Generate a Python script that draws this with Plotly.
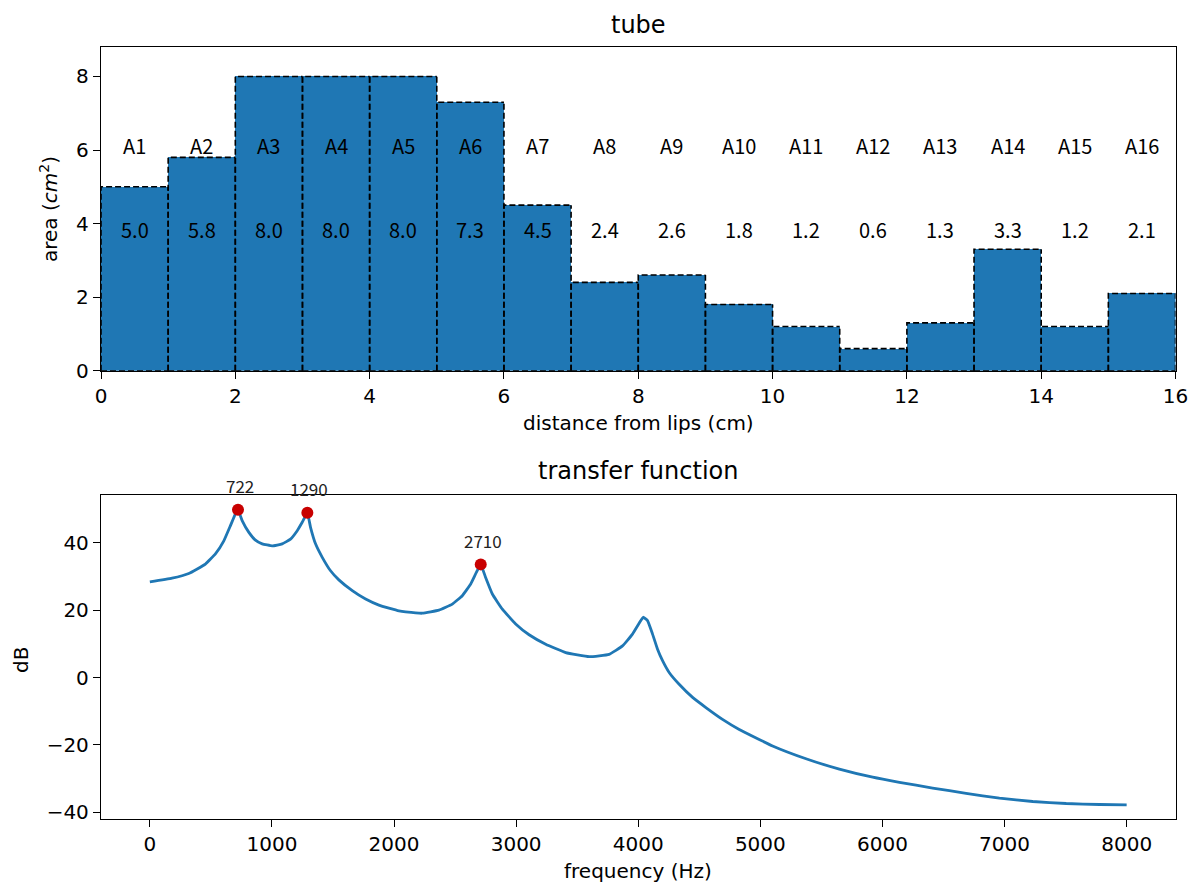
import numpy as np
import plotly.graph_objects as go

# ---------------- data ----------------
section_labels = ["A%d" % (i + 1) for i in range(16)]
areas = [5.0, 5.8, 8.0, 8.0, 8.0, 7.3, 4.5, 2.4, 2.6, 1.8, 1.2, 0.6, 1.3, 3.3, 1.2, 2.1]

freq_hz = [0, 182, 319, 455, 537, 606, 660, 701, 722, 756, 811, 865, 920, 1002, 1084,
           1152, 1207, 1248, 1290, 1316, 1357, 1412, 1480, 1548, 1658, 1767, 1876, 1958,
           2040, 2095, 2231, 2368, 2477, 2559, 2628, 2674, 2710, 2750, 2805, 2887, 2996,
           3106, 3242, 3406, 3598, 3761, 3871, 3953, 4007, 4040, 4076, 4117, 4158, 4199,
           4253, 4335, 4445, 4554, 4690, 4827, 5100, 5374, 5647, 5920, 6139, 6411,
           6685, 6958, 7231, 7505, 7778, 8000]
gain_db = [28.4, 29.5, 30.9, 33.7, 36.7, 40.6, 45.1, 48.6, 49.8, 46.6, 43.1, 40.8, 39.7,
           39.1, 39.7, 41.1, 43.6, 46.1, 48.9, 44.6, 39.7, 35.7, 31.7, 29.0, 25.8, 23.3,
           21.5, 20.6, 19.8, 19.5, 19.1, 20.0, 21.8, 24.3, 27.8, 31.2, 33.6, 29.7, 24.8,
           20.3, 15.9, 12.7, 9.9, 7.4, 6.2, 6.9, 9.4, 12.9, 16.1, 17.9, 16.9, 12.9, 8.4,
           5.0, 1.5, -2.0, -5.9, -8.9, -12.4, -15.4, -20.3, -24.1, -27.2, -29.6, -31.1,
           -32.8, -34.4, -35.8, -36.8, -37.4, -37.7, -37.8]

peak_freq = [722, 1290, 2710]
peak_db = [49.8, 48.9, 33.6]
peak_labels = [str(f) for f in peak_freq]

x_ticks_top = [0, 2, 4, 6, 8, 10, 12, 14, 16]
y_ticks_top = [0, 2, 4, 6, 8]
x_ticks_bot = [0, 1000, 2000, 3000, 4000, 5000, 6000, 7000, 8000]
y_ticks_bot = [-40, -20, 0, 20, 40]

# ---------------- figure ----------------
W, H = 1190, 883
BLUE = "#1f77b4"
TICK_FONT = dict(family="DejaVu Sans", size=20, color="black")
ANN_FONT = "Noto Sans CJK SC"

fig = go.Figure()

n = len(areas)
left_edges = np.arange(n)
centers = left_edges + 0.5

fig.add_trace(go.Bar(x=centers, y=areas, width=1.0, marker=dict(color=BLUE, line=dict(width=0)),
                     xaxis="x", yaxis="y", showlegend=False))

# dashed outline of each bar (vertical edges all drawn upward so shared edges stay in phase)
ox, oy = [], []
for e, h in zip(left_edges, areas):
    ox += [e, e, e + 1, None, e + 1, e + 1, None, e, e + 1, None]
    oy += [0, h, h, None, 0, h, None, 0, 0, None]
fig.add_trace(go.Scatter(x=ox, y=oy, mode="lines", line=dict(color="black", width=1.6, dash="6px,3px"),
                         xaxis="x", yaxis="y", showlegend=False, hoverinfo="skip"))

fig.add_trace(go.Scatter(x=freq_hz, y=gain_db, mode="lines",
                         line=dict(color=BLUE, width=2.8, shape="spline", smoothing=0.35),
                         xaxis="x2", yaxis="y2", showlegend=False))
fig.add_trace(go.Scatter(x=peak_freq, y=peak_db, mode="markers",
                         marker=dict(color="#c80000", size=12),
                         xaxis="x2", yaxis="y2", showlegend=False))

annotations = []
LABEL_Y, VALUE_Y = 6.13, 3.85
for c, lab, v in zip(centers, section_labels, areas):
    annotations.append(dict(x=c, y=LABEL_Y, xref="x", yref="y", text=lab, showarrow=False,
                            xanchor="center", yanchor="middle",
                            font=dict(family=ANN_FONT, size=20, color="black")))
    annotations.append(dict(x=c, y=VALUE_Y, xref="x", yref="y", text="%.1f" % v, showarrow=False,
                            xanchor="center", yanchor="middle",
                            font=dict(family=ANN_FONT, size=20, color="black")))
for f, d, lab in zip(peak_freq, peak_db, peak_labels):
    annotations.append(dict(x=f, y=d, xref="x2", yref="y2", text=lab, showarrow=False,
                            xanchor="center", yanchor="middle", yshift=24, xshift=2,
                            font=dict(family=ANN_FONT, size=17, color="#222222")))


def px_x(p):
    return p / W


def px_y(p):
    return 1 - p / H


x_dom = [px_x(101), px_x(1175.5)]
mid_x = (x_dom[0] + x_dom[1]) / 2
title_font = dict(family="DejaVu Sans", size=24, color="black")
paper_texts = [
    (mid_x, px_y(25), "tube", 0, title_font),
    (mid_x, px_y(471), "transfer function", 0, title_font),
    (mid_x, px_y(423), "distance from lips (cm)", 0, TICK_FONT),
    (mid_x, px_y(871), "frequency (Hz)", 0, TICK_FONT),
    (px_x(49), px_y(209), "area (<i>cm</i><sup>2</sup>)", -90, TICK_FONT),
    (px_x(21), px_y(660), "dB", -90, TICK_FONT),
]
for x, y, t, ang, fnt in paper_texts:
    annotations.append(dict(x=x, y=y, xref="paper", yref="paper", text=t, textangle=ang,
                            xanchor="center", yanchor="middle", showarrow=False, font=fnt))

axis_common = dict(showline=True, mirror=True, linecolor="black", linewidth=1.3, ticks="outside",
                   ticklen=7, tickwidth=1.3, tickcolor="black", showgrid=False, zeroline=False,
                   tickfont=TICK_FONT, automargin=False)

fig.update_layout(
    width=W, height=H,
    margin=dict(l=0, r=0, t=0, b=0),
    paper_bgcolor="white", plot_bgcolor="white",
    bargap=0,
    showlegend=False,
    xaxis=dict(domain=x_dom, range=[0, 16], tickvals=x_ticks_top, anchor="y", **axis_common),
    yaxis=dict(domain=[px_y(370.7), px_y(47)], range=[0, 8.8], tickvals=y_ticks_top, anchor="x", **axis_common),
    xaxis2=dict(domain=x_dom, range=[-400, 8400], tickvals=x_ticks_bot, anchor="y2", **axis_common),
    yaxis2=dict(domain=[px_y(819), px_y(495)], range=[-42.0, 54.2], tickvals=y_ticks_bot, anchor="x2", **axis_common),
    annotations=annotations,
)

fig.write_html("out.html", config={"displayModeBar": False},
               post_script="document.body.style.margin='0';document.body.style.padding='0';")
